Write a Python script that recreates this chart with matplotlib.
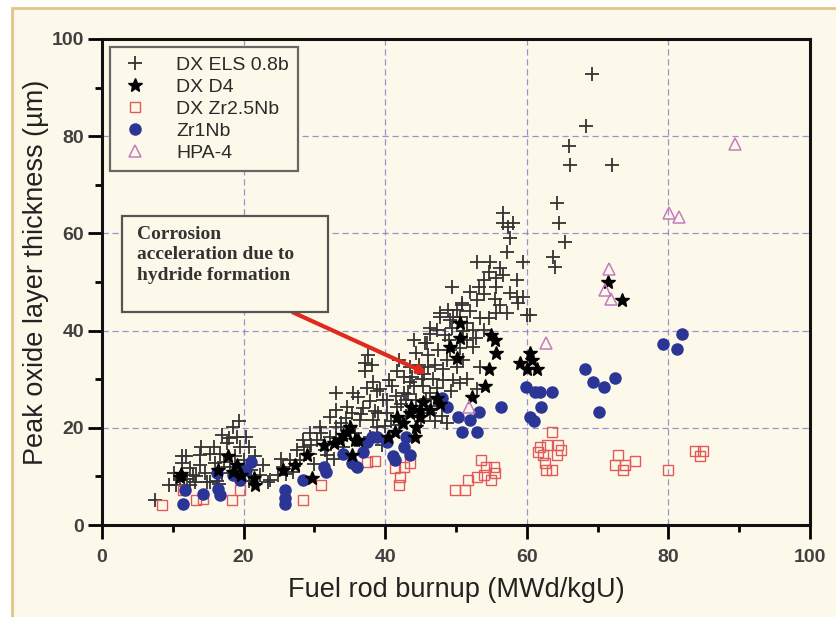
import matplotlib
matplotlib.use("Agg")
import matplotlib.pyplot as plt
from matplotlib.patches import Rectangle
from matplotlib.ticker import MultipleLocator

plt.rcParams['font.family'] = ['Liberation Sans', 'DejaVu Sans']

# DX ELS 0.8b (plus markers)
els_x = [7.5, 9.4, 10.5, 11.3, 11.3, 12.4, 13.1, 13.8, 14.5, 15.3, 16.0, 16.7, 17.6, 18.5, 19.0, 19.5,
         20.4, 20.7, 18.1, 20.0, 22.3, 23.5, 12.4, 14.8, 15.3, 16.9, 13.8, 11.9, 11.0, 18.8, 21.1, 21.6,
         16.2, 19.8, 17.2, 12.9, 10.2, 14.0, 15.8, 17.0, 18.0, 19.3, 16.5, 13.3, 22.8, 20.8, 12.0,
         23.7, 25.6, 26.6, 27.5, 28.4, 29.4, 30.8, 32.2, 33.1, 34.6, 36.2, 37.1, 37.1, 37.4, 38.3, 38.8,
         41.6, 42.6, 43.5, 44.4, 45.9, 46.3, 47.3, 47.7, 49.2, 50.1, 50.8, 48.7, 45.4, 46.3, 47.3, 44.4,
         42.6, 41.6, 40.2, 40.2, 38.3, 36.4, 35.0, 33.1, 32.2, 30.3, 36.0, 37.9, 38.8, 29.4, 28.0, 44.0,
         50.1, 50.6, 48.2, 33.1, 35.5, 39.7, 31.5, 34.0, 39.5, 42.0, 43.0, 45.0, 46.5, 48.0, 30.0, 32.8,
         26.0, 34.5, 36.8, 39.0, 41.0, 43.5, 45.5, 47.0, 49.0, 51.5, 42.0, 44.0, 46.0,
         27.0, 28.5, 29.5, 31.0, 31.8, 33.0, 33.8, 35.3, 35.8, 36.6, 37.8, 38.5, 39.3, 40.5, 40.8, 41.5,
         42.3, 43.2, 43.8, 44.8, 45.2, 46.0, 46.8, 47.5, 48.2, 48.5, 49.5, 50.5, 51.0, 52.0, 52.8, 47.0,
         49.3, 45.8, 43.0, 40.0, 38.2, 37.5, 24.8, 25.3,
         56.7, 56.7, 58.1, 57.4, 57.6, 57.2, 52.9, 54.8, 56.2, 56.7, 55.7, 54.6, 58.6, 59.5, 53.9, 53.2,
         49.4, 55.7, 57.6, 58.6, 59.5, 58.8, 55.5, 56.2, 55.7, 50.8, 48.9, 47.7, 50.6, 51.5, 53.4, 54.6,
         52.4, 53.9, 46.3, 45.6, 60.5, 49.6, 52.9, 49.2, 51.0, 52.4, 53.4, 49.6, 47.7, 46.3, 48.7, 57.2,
         60.0, 52.0, 54.0, 51.5, 53.0,
         63.7, 64.0, 64.3, 64.6, 65.4, 65.9, 66.1, 68.3, 69.2, 72.0]
els_y = [5.1, 8.2, 8.2, 14.1, 12.8, 11.7, 8.9, 12.3, 10.6, 14.7, 12.7, 14.7, 16.8, 20.2, 18.2, 16.1,
         18.2, 16.1, 12.0, 13.4, 10.3, 8.9, 8.2, 8.9, 8.9, 10.6, 14.4, 14.1, 9.3, 14.1, 11.3, 14.1,
         9.1, 10.5, 12.9, 10.2, 10.8, 16.0, 16.0, 18.5, 18.0, 21.5, 8.5, 10.0, 12.3, 9.0, 9.5,
         9.3, 12.0, 13.4, 15.4, 17.5, 18.9, 20.2, 22.3, 23.7, 24.3, 26.4, 33.3, 31.6, 28.1, 29.5, 27.6,
         31.6, 30.5, 32.6, 35.3, 37.4, 39.4, 40.1, 43.6, 42.2, 44.2, 45.6, 34.0, 28.5, 27.1, 28.1, 25.7,
         27.1, 24.3, 23.0, 25.7, 21.6, 21.6, 20.2, 20.2, 18.2, 17.5, 17.5, 18.2, 20.2, 14.7, 13.4, 28.5,
         32.6, 29.2, 29.8, 27.1, 27.1, 25.7, 15.5, 16.0, 16.5, 20.5, 22.5, 21.5, 24.5, 22.5, 12.5, 13.5,
         10.5, 22.0, 24.0, 23.0, 28.5, 29.5, 31.0, 33.0, 38.0, 38.0, 34.0, 38.0, 35.0,
         11.0, 16.0, 16.5, 19.0, 14.5, 18.0, 21.0, 23.0, 19.0, 22.8, 25.5, 23.5, 28.0, 29.8, 21.5, 26.5,
         25.0, 27.0, 30.5, 33.0, 30.0, 32.5, 30.0, 36.0, 32.0, 39.0, 40.5, 36.5, 40.0, 44.0, 38.5, 21.5,
         27.5, 26.0, 25.8, 20.3, 33.0, 35.0, 10.2, 13.5,
         64.1, 62.1, 62.1, 61.4, 59.0, 56.2, 54.2, 54.2, 52.8, 51.4, 50.8, 52.1, 50.4, 54.2, 50.4, 49.0,
         49.0, 49.0, 47.7, 47.0, 47.0, 45.6, 46.6, 45.3, 43.6, 45.3, 44.2, 42.9, 42.9, 41.5, 42.5, 42.5,
         40.1, 40.1, 40.5, 37.4, 43.2, 42.9, 46.3, 36.0, 34.0, 36.7, 32.6, 29.8, 25.7, 23.0, 20.9, 43.6,
         43.2, 48.0, 47.5, 30.0, 28.0,
         55.2, 53.1, 66.2, 62.2, 58.2, 78.0, 74.0, 82.0, 92.9, 74.0]

# DX D4 (stars)
d4_x = [11.0, 11.2, 16.4, 17.8, 19.0, 19.7, 21.4, 21.6, 25.6, 27.3, 28.9, 29.6, 31.3, 32.7, 33.6, 34.6,
        35.0, 35.7, 35.3, 36.2, 40.4, 41.4, 41.6, 43.5, 43.7, 44.2, 44.4, 44.9, 45.4, 46.3, 47.3, 47.7,
        44.9, 49.2, 50.1, 50.6, 50.6, 52.2, 54.1, 54.6, 55.7, 55.5, 55.0, 59.0, 60.0, 60.5, 60.7, 61.4,
        71.5, 73.4, 18.5, 34.0, 42.5]
d4_y = [9.9, 10.5, 11.3, 14.1, 12.3, 10.3, 9.6, 8.2, 11.3, 12.3, 14.4, 9.6, 16.5, 16.8, 17.5, 19.2,
        20.2, 17.5, 14.4, 17.5, 18.2, 19.2, 22.3, 23.0, 24.3, 18.2, 20.2, 23.7, 25.4, 23.7, 26.1, 25.0,
        22.3, 36.7, 34.3, 41.5, 38.4, 26.4, 28.5, 32.2, 35.3, 38.0, 39.1, 33.3, 32.2, 35.3, 34.0, 32.2,
        50.0, 46.2, 11.0, 18.5, 21.0]

# DX Zr2.5Nb (open squares)
zr25_x = [8.5, 11.4, 13.3, 14.3, 18.3, 19.5, 28.4, 31.0, 37.4, 38.6, 41.4, 42.1, 41.9, 43.5, 42.6,
          49.9, 51.3, 51.7, 52.9, 53.6, 54.3, 55.3, 55.5, 55.0, 53.9, 63.5, 61.9, 62.8, 64.4, 62.3,
          64.2, 64.9, 62.6, 63.5, 62.7, 61.6, 72.9, 72.5, 73.9, 73.6, 75.3, 80.0, 83.8, 84.9, 84.5]
zr25_y = [4.1, 7.2, 5.1, 5.3, 5.1, 7.2, 5.1, 8.2, 13.0, 13.2, 11.7, 9.9, 8.2, 12.7, 12.0,
          7.2, 7.2, 9.3, 9.9, 13.4, 12.0, 12.0, 10.6, 9.3, 10.3, 19.2, 16.1, 16.5, 16.5, 14.4,
          14.4, 15.4, 12.7, 11.3, 11.3, 15.1, 14.4, 12.3, 12.3, 11.3, 13.2, 11.3, 15.3, 15.3, 14.2]

# Zr1Nb (filled circles)
zr1_x = [11.7, 11.5, 14.3, 16.4, 16.7, 18.5, 16.2, 19.5, 20.4, 21.1, 25.8, 25.8, 25.8, 28.4, 31.3,
         31.7, 34.1, 35.3, 36.0, 36.9, 37.4, 38.1, 38.8, 40.2, 41.1, 41.4, 42.6, 43.0, 43.5, 48.0,
         48.7, 50.3, 52.0, 53.2, 50.8, 52.9, 56.4, 59.9, 61.2, 61.9, 63.5, 62.0, 60.5, 61.0, 68.2,
         69.4, 70.9, 72.5, 70.2, 79.3, 81.9, 81.2]
zr1_y = [7.2, 4.3, 6.4, 7.5, 6.2, 10.3, 10.6, 9.3, 11.3, 13.0, 7.2, 5.5, 4.3, 9.3, 12.0,
         11.0, 14.7, 12.7, 12.0, 15.1, 17.1, 18.2, 18.2, 17.1, 14.1, 13.4, 16.1, 18.2, 14.4, 26.1,
         24.3, 22.3, 21.6, 23.3, 19.2, 19.2, 24.3, 28.3, 27.4, 27.4, 27.4, 24.3, 22.3, 21.3, 32.2,
         29.5, 28.3, 30.3, 23.3, 37.2, 39.3, 36.2]

# HPA-4 (open triangles)
hpa_x = [51.8, 62.7, 71.6, 71.0, 71.9, 80.1, 81.5, 89.4]
hpa_y = [24.3, 37.4, 52.6, 48.4, 46.4, 64.3, 63.4, 78.3]

cream = '#fdf9ea'

fig = plt.figure(figsize=(8.36, 6.17), dpi=100)
fig.patch.set_facecolor('white')
panel = Rectangle((12 / 836, -0.1), 1.2, 1 - 8 / 617 + 0.1, transform=fig.transFigure,
                  facecolor=cream, edgecolor='#e2c48a', linewidth=2, zorder=-10)
fig.patches.append(panel)

ax = fig.add_axes([102 / 836, 1 - 525 / 617, 708 / 836, 486 / 617])
ax.set_zorder(1)
ax.set_facecolor(cream)

ax.plot(els_x, els_y, ls='none', marker='+', ms=10, mew=1.3, color='#333333', label='DX ELS 0.8b', zorder=3)
ax.plot(zr25_x, zr25_y, ls='none', marker='s', ms=7, mew=1.0, mfc='none', mec='#e05a5a', label='DX Zr2.5Nb', zorder=4)
ax.plot(zr1_x, zr1_y, ls='none', marker='o', ms=8, color='#2a3596', label='Zr1Nb', zorder=5)
ax.plot(d4_x, d4_y, ls='none', marker='*', ms=10, color='black', label='DX D4', zorder=6)
ax.plot(hpa_x, hpa_y, ls='none', marker='^', ms=9, mew=1.1, mfc='none', mec='#c47cc0', label='HPA-4', zorder=6)

ax.set_xlim(0, 100)
ax.set_ylim(0, 100)
ax.xaxis.set_major_locator(MultipleLocator(20))
ax.xaxis.set_minor_locator(MultipleLocator(10))
ax.yaxis.set_major_locator(MultipleLocator(20))
ax.yaxis.set_minor_locator(MultipleLocator(10))
ax.grid(True, which='major', color='#7b7bc8', linestyle=(0, (5, 3)), linewidth=0.9, alpha=0.8, zorder=1)
ax.set_axisbelow(True)
for s in ax.spines.values():
    s.set_linewidth(2.2)
    s.set_color('#111111')
ax.tick_params(which='major', length=10, width=2, direction='out',
               labelsize=14, labelcolor='#404040')
ax.tick_params(which='minor', length=5, width=2, direction='out')
ax.tick_params(axis='x', pad=7)
ax.tick_params(axis='y', pad=3)
for lab in ax.get_xticklabels() + ax.get_yticklabels():
    lab.set_fontweight('bold')

ax.set_xlabel('Fuel rod burnup (MWd/kgU)', fontsize=19.5, color='#222222', labelpad=8)
ax.set_ylabel('Peak oxide layer thickness (\u00b5m)', fontsize=19.5, color='#222222')
ax.yaxis.set_label_coords(-0.075, 0.52)

h, l = ax.get_legend_handles_labels()
order = [0, 3, 1, 2, 4]
leg = ax.legend([h[i] for i in order], [l[i] for i in order], loc='upper left',
                bbox_to_anchor=(0.011, 0.984), borderaxespad=0, fancybox=False,
                frameon=True, fontsize=14, handletextpad=1.3, labelspacing=0.22,
                borderpad=0.5, handlelength=1.6)
leg.get_frame().set_edgecolor('#666666')
leg.get_frame().set_linewidth(1.6)
leg.get_frame().set_facecolor(cream)
leg.get_frame().set_alpha(1)
for t in leg.get_texts():
    t.set_color('#2a2a2a')

ax.annotate('', xy=(46.3, 30.9), xytext=(26.6, 44.0),
            arrowprops=dict(arrowstyle='-|>', color='#e02a1e', lw=3, mutation_scale=12), zorder=7)
ax.add_patch(Rectangle((2.8, 43.8), 29.1, 19.8, facecolor=cream, edgecolor='#555555',
                       linewidth=1.6, zorder=8))
ax.text(4.9, 61.5, 'Corrosion\nacceleration due to\nhydride formation', fontsize=14,
        family='Liberation Serif', fontweight='bold', color='#333333', va='top', ha='left',
        linespacing=1.25, zorder=9)

fig.savefig('out.png', dpi=100, facecolor=fig.get_facecolor())
